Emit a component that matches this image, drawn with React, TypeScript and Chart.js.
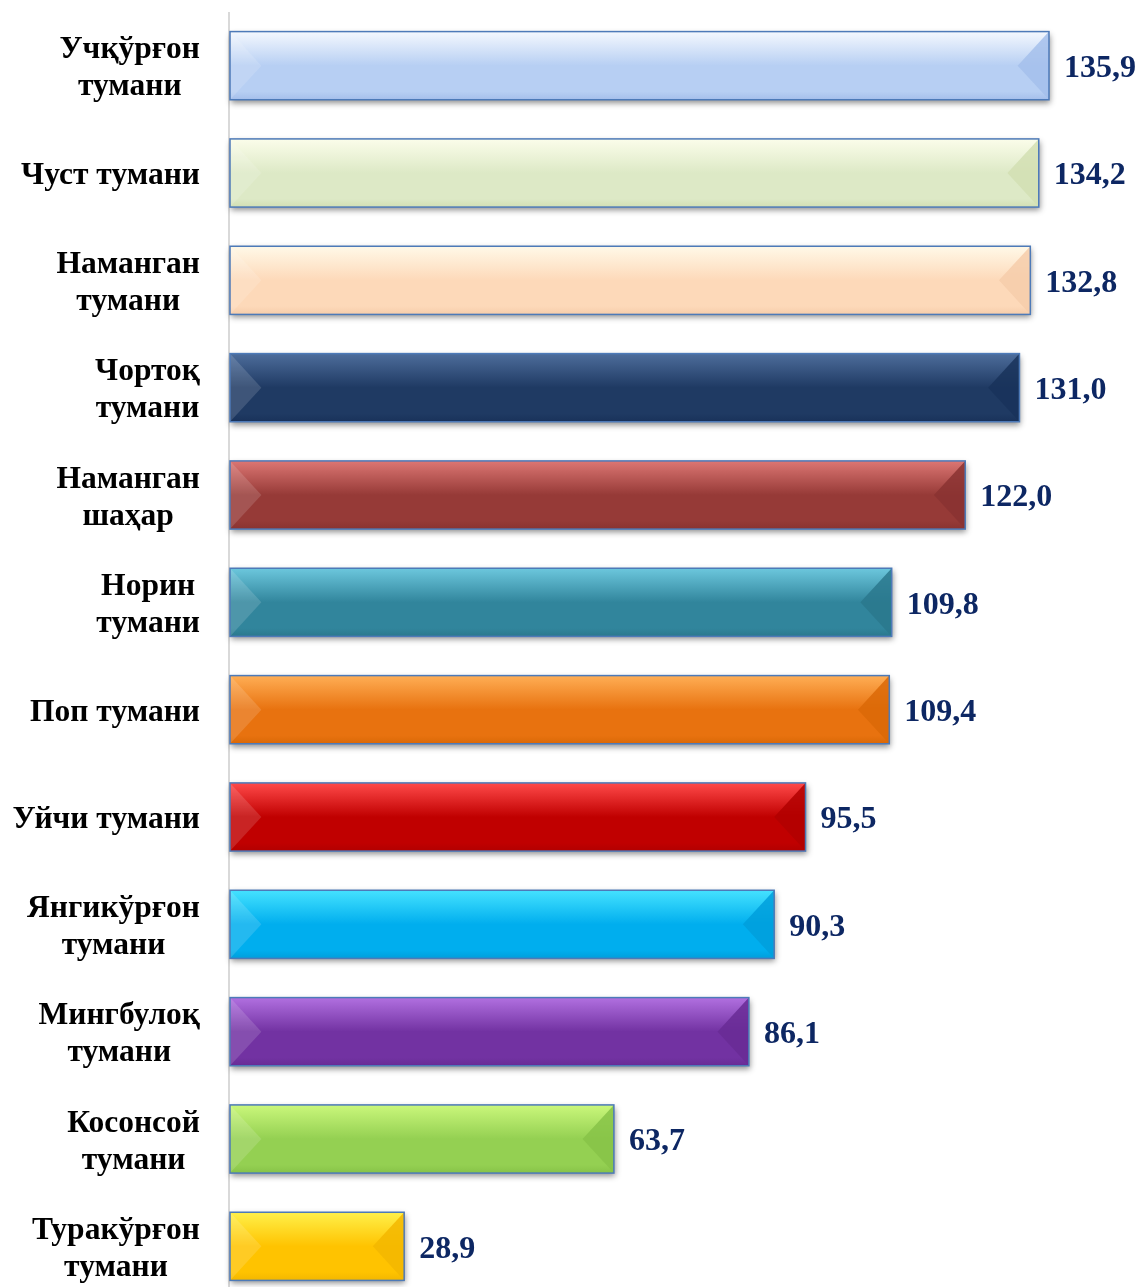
import React, { useEffect, useRef } from 'react';
import { Chart, registerables } from 'chart.js';

Chart.register(...registerables);

const categories: string[][] = [
  ['Учқўрғон', 'тумани'],
  ['Чуст тумани'],
  ['Наманган', 'тумани'],
  ['Чортоқ', 'тумани'],
  ['Наманган', 'шаҳар'],
  ['Норин', 'тумани'],
  ['Поп тумани'],
  ['Уйчи тумани'],
  ['Янгикўрғон', 'тумани'],
  ['Мингбулоқ', 'тумани'],
  ['Косонсой', 'тумани'],
  ['Туракўрғон', 'тумани'],
];

const values = [135.9, 134.2, 132.8, 131.0, 122.0, 109.8, 109.4, 95.5, 90.3, 86.1, 63.7, 28.9];

const valueLabels = ['135,9', '134,2', '132,8', '131,0', '122,0', '109,8', '109,4', '95,5', '90,3', '86,1', '63,7', '28,9'];

const baseColors = ['#b7cff3', '#dde9c6', '#fdd9b9', '#1f3a63', '#963a37', '#31859c', '#e8720f', '#c00000', '#00aeee', '#7232a2', '#94d052', '#ffc300'];
const topColors = ['#f4f8fe', '#fbfdea', '#fff9e8', '#4d6d9b', '#dc7673', '#6cc7dd', '#ffae55', '#ff4a4a', '#45e2ff', '#b170e0', '#caf77b', '#fff04a'];
const bottomColors = ['#a5bfeb', '#d2dfb3', '#f6cdaa', '#19325a', '#8a3331', '#2a788d', '#da6907', '#b20000', '#009fdc', '#682c95', '#87c348', '#f3b700'];

const X_MAX = 151;

const bevelPlugin = {
  id: 'bevelBars',
  beforeDatasetsDraw(chart: any) {
    const ctx: CanvasRenderingContext2D = chart.ctx;
    const area = chart.chartArea;
    ctx.save();
    ctx.strokeStyle = '#d9d9d9';
    ctx.lineWidth = 2;
    ctx.beginPath();
    ctx.moveTo(area.left - 1, 12);
    ctx.lineTo(area.left - 1, chart.height);
    ctx.stroke();
    const meta = chart.getDatasetMeta(0);
    meta.data.forEach((el: any) => {
      const { x, y, base, height } = el.getProps(['x', 'y', 'base', 'height'], true);
      ctx.shadowColor = 'rgba(0,0,0,0.45)';
      ctx.shadowBlur = 6;
      ctx.shadowOffsetX = 1;
      ctx.shadowOffsetY = 3;
      ctx.fillStyle = '#ffffff';
      ctx.fillRect(base, y - height / 2, x - base, height);
    });
    ctx.restore();
  },
  afterDatasetsDraw(chart: any) {
    const ctx: CanvasRenderingContext2D = chart.ctx;
    const meta = chart.getDatasetMeta(0);
    ctx.save();
    meta.data.forEach((el: any, i: number) => {
      const { x, y, base, height } = el.getProps(['x', 'y', 'base', 'height'], true);
      const x0 = base, x1 = x, t = y - height / 2, b = y + height / 2;
      const bev = Math.min(height / 2, (x1 - x0) / 2) * 0.92;
      const g = ctx.createLinearGradient(0, t, 0, b);
      g.addColorStop(0, topColors[i]);
      g.addColorStop(0.5, baseColors[i]);
      g.addColorStop(0.88, baseColors[i]);
      g.addColorStop(1, bottomColors[i]);
      ctx.fillStyle = g;
      ctx.fillRect(x0, t, x1 - x0, height);
      // left bevel
      ctx.fillStyle = 'rgba(255,255,255,0.14)';
      ctx.beginPath();
      ctx.moveTo(x0, t);
      ctx.lineTo(x0 + bev, y);
      ctx.lineTo(x0, b);
      ctx.closePath();
      ctx.fill();
      // right bevel
      ctx.globalAlpha = 0.85;
      ctx.fillStyle = bottomColors[i];
      ctx.beginPath();
      ctx.moveTo(x1, t);
      ctx.lineTo(x1 - bev, y);
      ctx.lineTo(x1, b);
      ctx.closePath();
      ctx.fill();
      ctx.globalAlpha = 1;
      // border
      ctx.strokeStyle = '#4d7ab8';
      ctx.lineWidth = 1.5;
      ctx.strokeRect(x0, t, x1 - x0, height);
      // value label
      ctx.fillStyle = '#0d2763';
      ctx.font = 'bold 32px "Liberation Serif", "Times New Roman", serif';
      ctx.textAlign = 'left';
      ctx.textBaseline = 'middle';
      ctx.fillText(valueLabels[i], x1 + 15, y + 3);
    });
    // category labels
    const yScale = chart.scales.y;
    ctx.fillStyle = '#000000';
    ctx.font = 'bold 31.5px "Liberation Serif", "Times New Roman", serif';
    ctx.textAlign = 'center';
    ctx.textBaseline = 'middle';
    const rightEdge = 200;
    const lh = 37;
    categories.forEach((lines, i) => {
      const cy = yScale.getPixelForValue(i);
      const w = Math.max(...lines.map((l) => ctx.measureText(l).width));
      const cx = rightEdge - w / 2;
      lines.forEach((l, j) => {
        ctx.fillText(l, cx, cy + 3 + (j - (lines.length - 1) / 2) * lh);
      });
    });
    ctx.restore();
  },
};

export default function App() {
  const canvasRef = useRef<HTMLCanvasElement | null>(null);

  useEffect(() => {
    if (!canvasRef.current) return;
    const chart = new Chart(canvasRef.current, {
      type: 'bar',
      data: {
        labels: categories.map((c) => c.join(' ')),
        datasets: [
          {
            data: values,
            backgroundColor: baseColors,
            borderWidth: 0,
            barPercentage: 0.635,
            categoryPercentage: 1,
          },
        ],
      },
      options: {
        indexAxis: 'y',
        responsive: false,
        animation: false,
        layout: { padding: { left: 230, top: 12, right: 0, bottom: 0 } },
        plugins: {
          legend: { display: false },
          tooltip: { enabled: false },
          title: { display: false },
        },
        scales: {
          x: { display: false, min: 0, max: X_MAX },
          y: { display: false },
        },
      },
      plugins: [bevelPlugin],
    } as any);
    return () => chart.destroy();
  }, []);

  return (
    <div
      style={{
        position: 'fixed',
        left: 0,
        top: 0,
        width: 1140,
        height: 1287,
        overflow: 'hidden',
        background: '#ffffff',
      }}
    >
      <canvas ref={canvasRef} width={1140} height={1300} style={{ display: 'block', width: 1140, height: 1300 }} />
    </div>
  );
}
